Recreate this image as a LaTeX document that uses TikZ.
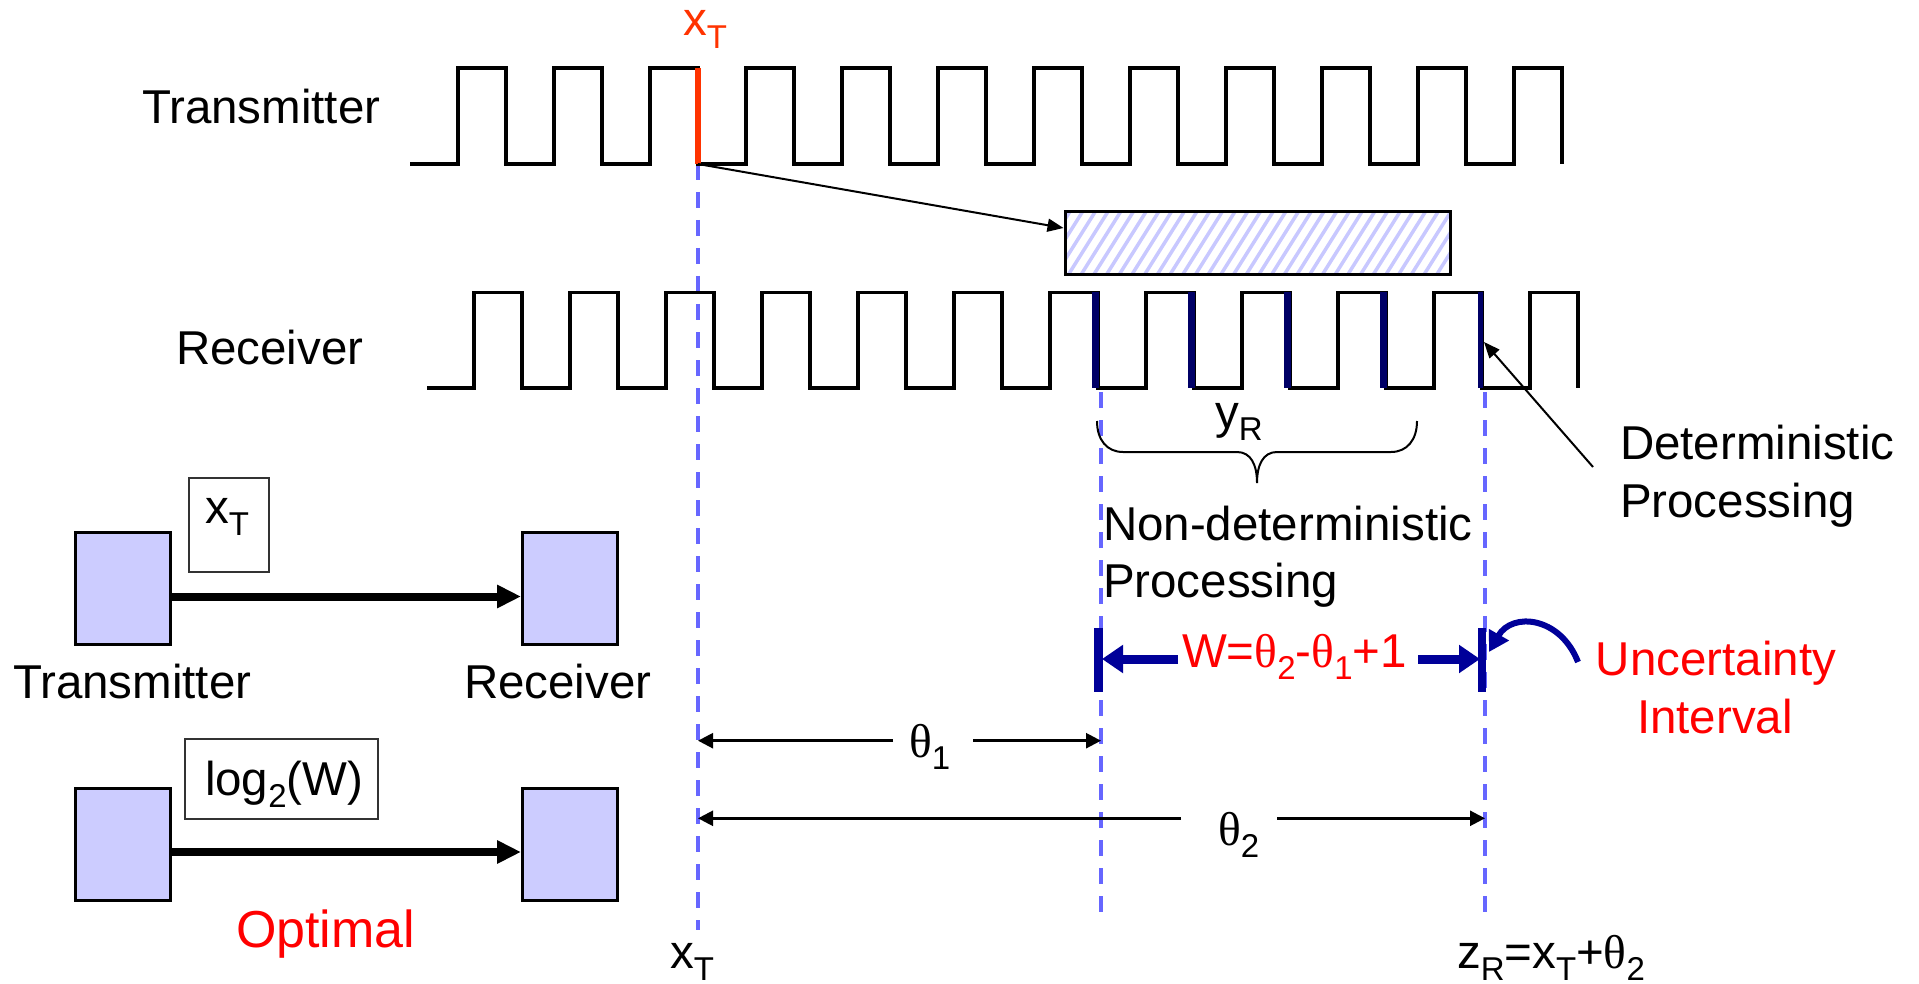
\documentclass[tikz,border=0pt]{standalone}
\usepackage{fontspec}
\setmainfont{Liberation Sans}
\newfontfamily\thfont{Liberation Serif}
\usetikzlibrary{arrows.meta}
\definecolor{lav}{RGB}{204,204,255}
\definecolor{hatchc}{RGB}{200,200,255}
\definecolor{dashblue}{RGB}{102,102,255}
\definecolor{navyA}{RGB}{0,0,102}
\definecolor{navyB}{RGB}{0,0,153}
\definecolor{redT}{RGB}{255,51,0}
\definecolor{redW}{RGB}{255,0,0}
\newcommand\sbs[1]{\raisebox{-0.26em}{\fontsize{33}{33}\selectfont #1}}
\newcommand\thet{{\thfont θ}}
\begin{document}
\begin{tikzpicture}[x=1pt,y=-1pt,
  txt/.style={anchor=base west,inner sep=0pt,outer sep=0pt,font=\fontsize{47.5}{57}\selectfont},
  wave/.style={line width=3.5pt,line join=miter,line cap=butt},
  dline/.style={dashblue,line width=4pt,dash pattern=on 16pt off 12pt},
  lbox/.style={draw=black,line width=3pt,fill=lav,minimum width=95pt,minimum height=112pt,inner sep=0pt},
  tbox/.style={draw=black!80,line width=2.5pt,inner sep=0pt},
  bigarrow/.style={line width=8pt,-{Triangle[length=24pt,width=22pt]}},
  thinarrow/.style={line width=2pt,-{Triangle[length=16pt,width=13pt]}},
  tharrow/.style={line width=2.5pt,-{Triangle[length=15pt,width=15pt]}},
  warrow/.style={navyB,line width=9pt,-{Triangle[length=21pt,width=27pt]}},
  curvarrow/.style={navyB,line width=6pt,-{Triangle[length=20pt,width=22pt]}}]
\useasboundingbox (0,0) rectangle (1919,984);
\fill[white] (0,0) rectangle (1919,984);

% key coordinates
\coordinate (xT) at (698,164);
\coordinate (xTbot) at (698,930);
\coordinate (m1top) at (1101,392);
\coordinate (m1bot) at (1101,922);
\coordinate (m2top) at (1485,392);
\coordinate (m2bot) at (1485,915);

% dashed guide lines
\draw[dline] (xT) -- (xTbot);
\draw[dline] (m1top) -- (m1bot);
\draw[dline] (m2top) -- (m2bot);

% transmitter clock
\draw[wave] (410,164) \foreach \k in {0,...,11}{ -- ({458+96*\k},164) -- ({458+96*\k},68) -- ({506+96*\k},68) -- ({506+96*\k},164)};
\draw[line width=6pt,redT] (698,68) -- (xT);

% receiver clock
\draw[wave] (427,388) \foreach \k in {0,...,11}{ -- ({474+96*\k},388) -- ({474+96*\k},292.5) -- ({522+96*\k},292.5) -- ({522+96*\k},388)};
\foreach \k in {6,...,9} \draw[line width=7pt,navyA] ({519+96*\k},292.5) -- ({519+96*\k},388);
\draw[line width=5pt,navyA] (1480.5,292.5) -- (1480.5,388);

% hatched box
\begin{scope}
\clip (1065,212) rectangle (1450,275);
\foreach \i in {-6,...,32} \draw[hatchc,line width=3.5pt] ({1065+12.7*\i},280) -- ++(44,-70);
\end{scope}
\node[draw=black,line width=3pt,minimum width=385pt,minimum height=63pt,inner sep=0pt] (hatch) at (1257.5,243.5) {};
\draw[thinarrow] (xT) -- ([yshift=15.5pt]hatch.west);

% labels left of clocks
\node[txt] (lblTx) at (142,124) {Transmitter};
\node[txt] (lblRx) at (176,364) {Receiver};
\node[txt,text=redT] (xTtop) at (683,36) {x\sbs{T}};

% brace and y_R
\draw[line width=2pt] (1097,421) .. controls (1097,440) and (1107,452) .. (1123,452) -- (1237,452) .. controls (1251,452) and (1257,465) .. (1257,483) .. controls (1257,465) and (1263,452) .. (1277,452) -- (1391,452) .. controls (1407,452) and (1417,440) .. (1417,421);
\node[txt] (yR) at (1215,428) {y\sbs{R}};
\node[txt] (nd1) at (1103,540) {Non-deterministic};
\node[txt] (nd2) at (1103,597) {Processing};

% deterministic processing
\node[txt] (d1) at (1620,459) {Deterministic};
\node[txt] (d2) at (1620,517) {Processing};
\coordinate (detS) at (1593,467);
\coordinate (detE) at (1484,342);
\draw[thinarrow] (detS) -- (detE);

% uncertainty interval
\draw[line width=8.5pt,navyB] (1098.5,628) -- (1098.5,692);
\draw[line width=8.5pt,navyB] (1482,628) -- (1482,692);
\node[txt,text=redW] (wlab) at (1182,667) {W=\thet\sbs{2}-\thet\sbs{1}+1};
\coordinate (wL) at (1102,659);
\coordinate (wR) at (1480,659);
\draw[warrow] (1178,659) -- (wL);
\draw[warrow] (1418,659) -- (wR);
\coordinate (cS) at (1578,662);
\coordinate (cE) at (1489,652);
\draw[curvarrow] (cS) .. controls (1560,616) and (1512,612) .. (cE);
\node[txt,text=redW,anchor=base] (u1) at (1716,675) {Uncertainty};
\node[txt,text=redW,anchor=base] (u2) at (1715,733) {Interval};

% theta dimensions
\node[txt] (th1) at (909,757) {\thet\sbs{1}};
\draw[tharrow] (893,740.7) -- (698,740.7);
\draw[tharrow] (973,740.7) -- (1101,740.7);
\node[txt] (th2) at (1218,845) {\thet\sbs{2}};
\draw[tharrow] (1181,818.3) -- (698,818.3);
\draw[tharrow] (1277,818.3) -- (1485,818.3);

% bottom labels
\node[txt] (xTb) at (670,968) {x\sbs{T}};
\node[txt] (zR) at (1457,968) {z\sbs{R}=x\sbs{T}+\thet\sbs{2}};

% left block diagrams
\node[lbox] (tx1) at (122.5,588) {};
\node[lbox] (rx1) at (570,588) {};
\node[tbox,minimum width=80pt,minimum height=94pt] (xbox) at (229,525) {};
\node[txt] (xTin) at (205,523) {x\sbs{T}};
\draw[bigarrow] ([yshift=-8.5pt]tx1.east) -- ([yshift=-8.5pt]rx1.west);
\node[txt] (tx1lab) at (13,698) {Transmitter};
\node[txt] (rx1lab) at (464,698) {Receiver};

\node[lbox] (tx2) at (122.5,844) {};
\node[lbox] (rx2) at (570,844) {};
\node[tbox,minimum width=193pt,minimum height=80pt] (lbox2) at (281.5,779) {};
\node[txt] (logW) at (205,795) {log\sbs{2}(W)};
\draw[bigarrow] ([yshift=-8pt]tx2.east) -- ([yshift=-8pt]rx2.west);
\node[txt,font=\fontsize{52}{60}\selectfont,text=redW] (opt) at (236,947) {Optimal};
\end{tikzpicture}
\end{document}
